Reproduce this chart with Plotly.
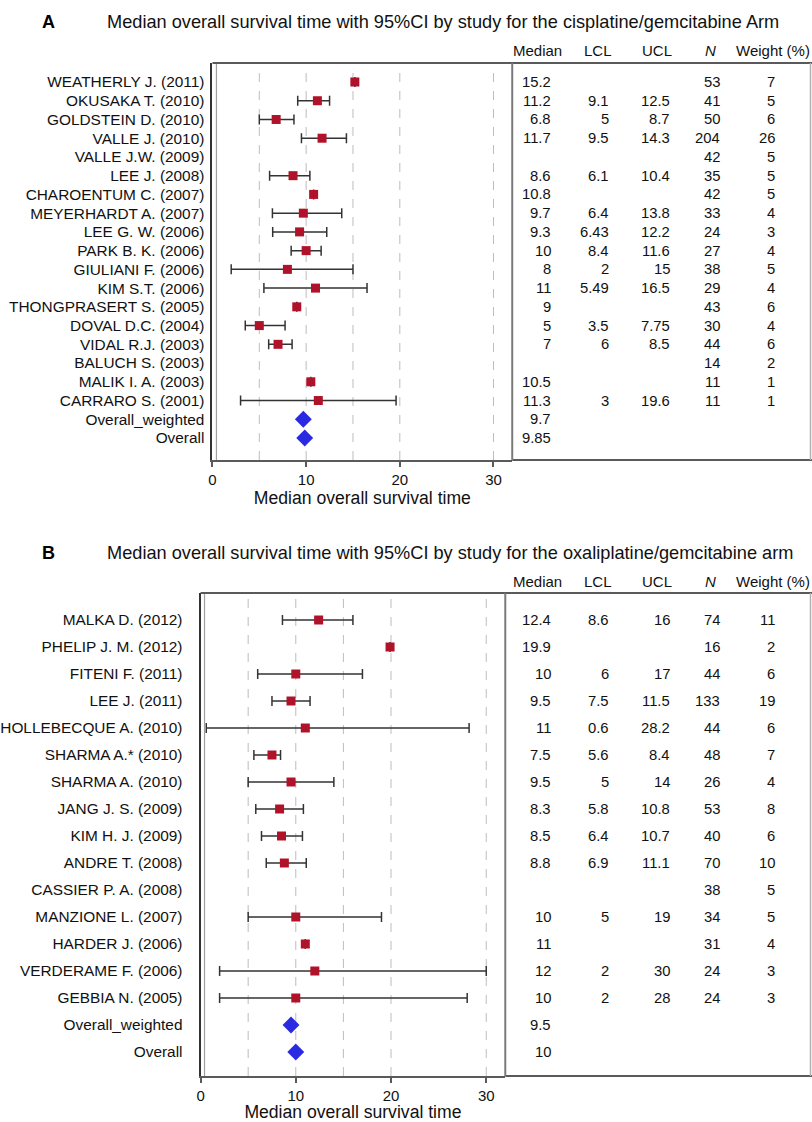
import plotly.graph_objects as go

# ---------------- Panel A data (cisplatine/gemcitabine) ----------------
A_STUDIES = ["WEATHERLY J. (2011)", "OKUSAKA T. (2010)", "GOLDSTEIN D. (2010)", "VALLE J. (2010)",
             "VALLE J.W. (2009)", "LEE J. (2008)", "CHAROENTUM C. (2007)", "MEYERHARDT A. (2007)",
             "LEE G. W. (2006)", "PARK B. K. (2006)", "GIULIANI F. (2006)", "KIM S.T. (2006)",
             "THONGPRASERT S. (2005)", "DOVAL D.C. (2004)", "VIDAL R.J. (2003)", "BALUCH S. (2003)",
             "MALIK I. A. (2003)", "CARRARO S. (2001)"]
A_MEDIAN = [15.2, 11.2, 6.8, 11.7, None, 8.6, 10.8, 9.7, 9.3, 10, 8, 11, 9, 5, 7, None, 10.5, 11.3]
A_LCL = [None, 9.1, 5, 9.5, None, 6.1, None, 6.4, 6.43, 8.4, 2, 5.49, None, 3.5, 6, None, None, 3]
A_UCL = [None, 12.5, 8.7, 14.3, None, 10.4, None, 13.8, 12.2, 11.6, 15, 16.5, None, 7.75, 8.5, None, None, 19.6]
A_N = [53, 41, 50, 204, 42, 35, 42, 33, 24, 27, 38, 29, 43, 30, 44, 14, 11, 11]
A_WEIGHT = [7, 5, 6, 26, 5, 5, 5, 4, 3, 4, 5, 4, 6, 4, 6, 2, 1, 1]
A_OVERALL_LABELS = ["Overall_weighted", "Overall"]
A_OVERALL = [9.7, 9.85]
A_TITLE = "Median overall survival time with 95%CI by study for the cisplatine/gemcitabine Arm"

# ---------------- Panel B data (oxaliplatine/gemcitabine) ----------------
B_STUDIES = ["MALKA D. (2012)", "PHELIP J. M. (2012)", "FITENI F. (2011)", "LEE J. (2011)",
             "HOLLEBECQUE A. (2010)", "SHARMA A.* (2010)", "SHARMA A. (2010)", "JANG J. S. (2009)",
             "KIM H. J. (2009)", "ANDRE T. (2008)", "CASSIER P. A. (2008)", "MANZIONE L. (2007)",
             "HARDER J. (2006)", "VERDERAME F. (2006)", "GEBBIA N. (2005)"]
B_MEDIAN = [12.4, 19.9, 10, 9.5, 11, 7.5, 9.5, 8.3, 8.5, 8.8, None, 10, 11, 12, 10]
B_LCL = [8.6, None, 6, 7.5, 0.6, 5.6, 5, 5.8, 6.4, 6.9, None, 5, None, 2, 2]
B_UCL = [16, None, 17, 11.5, 28.2, 8.4, 14, 10.8, 10.7, 11.1, None, 19, None, 30, 28]
B_N = [74, 16, 44, 133, 44, 48, 26, 53, 40, 70, 38, 34, 31, 24, 24]
B_WEIGHT = [11, 2, 6, 19, 6, 7, 4, 8, 6, 10, 5, 5, 4, 3, 3]
B_OVERALL_LABELS = ["Overall_weighted", "Overall"]
B_OVERALL = [9.5, 10]
B_TITLE = "Median overall survival time with 95%CI by study for the oxaliplatine/gemcitabine arm"

X_TICKS = [0, 10, 20, 30]
GRID_LINES = [5, 10, 15, 20, 30]
COL_HEADERS = ["Median", "LCL", "UCL", "<i>N</i>", "Weight (%)"]

# ---------------- layout geometry (pixels) ----------------
W, H = 812, 1122
FONT = "Liberation Sans, Arial, Helvetica, sans-serif"
RED = "#B0122A"
BLUE = "#2A2AE2"
ERR = "#333333"
FRAME = "#5a5a5a"

HEAD_X = [535, 596, 656, 710, 773]       # header centres
COL_X = [551, 609, 671, 721, 777]        # right edge of value columns


def px(x):
    return x / W


def py(y):
    return 1 - y / H


def fmt(v):
    return "" if v is None else f"{v:g}"


fig = go.Figure()
annotations = []
shapes = []


def panel(idx, letter, title, title_y, studies, med, lcl, ucl, n, wt, ov_labels, ov_vals,
          left, right, top, bottom, head_y, label_pad, pad_top, pad_bot):
    xa = "x" if idx == 1 else f"x{idx}"
    ya = "y" if idx == 1 else f"y{idx}"
    labels = studies + ov_labels
    nrows = len(labels)
    rows = list(range(nrows))
    srows = rows[:len(studies)]
    orows = rows[len(studies):]

    plus = [None if (u is None or m is None) else u - m for m, u in zip(med, ucl)]
    minus = [None if (l is None or m is None) else m - l for m, l in zip(med, lcl)]

    fig.add_trace(go.Scatter(
        x=med, y=srows, mode="markers", xaxis=xa, yaxis=ya, showlegend=False,
        marker=dict(symbol="square", size=9, color=RED),
        error_x=dict(type="data", symmetric=False, array=plus, arrayminus=minus,
                     color=ERR, thickness=1.5, width=5),
        cliponaxis=False))
    fig.add_trace(go.Scatter(
        x=ov_vals, y=orows, mode="markers", xaxis=xa, yaxis=ya, showlegend=False,
        marker=dict(symbol="diamond", size=13, color=BLUE)))

    # axis layout
    step = (bottom - top - pad_top - pad_bot) / (nrows - 1)
    y_lo = nrows - 1 + pad_bot / step
    y_hi = -pad_top / step
    xkey = "xaxis" if idx == 1 else f"xaxis{idx}"
    ykey = "yaxis" if idx == 1 else f"yaxis{idx}"
    fig.layout[xkey] = dict(
        domain=[px(left), px(right)], anchor=ya, range=[0, 32],
        tickvals=X_TICKS, ticks="outside", ticklen=5, tickwidth=1.5, tickcolor=FRAME,
        showline=True, linecolor=FRAME, linewidth=2, showgrid=False, zeroline=False,
        tickfont=dict(size=15, color="#111", family=FONT),
        title=dict(text="Median overall survival time", standoff=4,
                   font=dict(size=17.6, color="#111", family=FONT)))
    fig.layout[ykey] = dict(
        domain=[py(bottom), py(top)], anchor=xa, range=[y_lo, y_hi],
        tickvals=rows, ticktext=labels, ticks="", showgrid=False, zeroline=False,
        showline=True, linecolor="#333", linewidth=2, ticklabelstandoff=label_pad,
        tickfont=dict(size=15.4, color="#111", family=FONT))

    # dashed reference grid lines
    for g in GRID_LINES:
        shapes.append(dict(type="line", xref=xa, yref=f"{ya} domain", x0=g, x1=g, y0=0, y1=1,
                           line=dict(color="#bdbdbd", width=1, dash="dash"), layer="below"))
    # inner light line near the left axis
    shapes.append(dict(type="line", xref="paper", yref="paper", x0=px(left + 4), x1=px(left + 4),
                       y0=py(bottom), y1=py(top), line=dict(color="#a0a0a0", width=1.2)))
    # frame around plot + table
    shapes.append(dict(type="line", xref="paper", yref="paper", x0=px(left), x1=px(W),
                       y0=py(top), y1=py(top), line=dict(color=FRAME, width=2)))
    shapes.append(dict(type="line", xref="paper", yref="paper", x0=px(right), x1=px(W),
                       y0=py(bottom), y1=py(bottom), line=dict(color=FRAME, width=2)))
    shapes.append(dict(type="line", xref="paper", yref="paper", x0=px(right), x1=px(right),
                       y0=py(bottom), y1=py(top), line=dict(color="#7a7a7a", width=2)))
    shapes.append(dict(type="line", xref="paper", yref="paper", x0=px(W - 1.5), x1=px(W - 1.5),
                       y0=py(bottom), y1=py(top), line=dict(color="#b0b0b0", width=1.5)))

    # panel letter and title
    annotations.append(dict(text=f"<b>{letter}</b>", x=px(43), y=py(title_y), xref="paper",
                            yref="paper", xanchor="center", yanchor="middle", showarrow=False,
                            font=dict(size=18, color="#000", family=FONT)))
    annotations.append(dict(text=title, x=px(100), y=py(title_y), xref="paper", yref="paper",
                            xanchor="left", yanchor="middle", showarrow=False,
                            font=dict(size=18.2, color="#111", family=FONT)))
    # table header
    for hx, htxt in zip(HEAD_X, COL_HEADERS):
        annotations.append(dict(text=htxt, x=px(hx), y=py(head_y), xref="paper", yref="paper",
                                xanchor="center", yanchor="middle", showarrow=False,
                                font=dict(size=15, color="#111", family=FONT)))
    # table body
    med_all = med + ov_vals
    cols = [med_all, lcl + [None] * len(ov_vals), ucl + [None] * len(ov_vals),
            n + [None] * len(ov_vals), wt + [None] * len(ov_vals)]
    for cx, col in zip(COL_X, cols):
        for r, v in zip(rows, col):
            if v is None:
                continue
            annotations.append(dict(text=fmt(v), x=px(cx), y=r, xref="paper", yref=ya,
                                    xanchor="right", yanchor="middle", showarrow=False,
                                    font=dict(size=14.8, color="#111", family=FONT)))


panel(1, "A", A_TITLE, 22, A_STUDIES, A_MEDIAN, A_LCL, A_UCL, A_N, A_WEIGHT,
      A_OVERALL_LABELS, A_OVERALL, left=208, right=510, top=63, bottom=460, head_y=51,
      label_pad=3, pad_top=19, pad_bot=22)
panel(2, "B", B_TITLE, 553, B_STUDIES, B_MEDIAN, B_LCL, B_UCL, B_N, B_WEIGHT,
      B_OVERALL_LABELS, B_OVERALL, left=196, right=503, top=593, bottom=1076, head_y=581,
      label_pad=13, pad_top=27, pad_bot=24)

fig.update_layout(
    width=W, height=H, margin=dict(l=0, r=0, t=0, b=0),
    paper_bgcolor="white", plot_bgcolor="white",
    font=dict(family=FONT, color="#111"),
    annotations=annotations, shapes=shapes, showlegend=False)

fig.write_html("out.html", config={"displayModeBar": False},
               post_script="document.body.style.margin='0';"
                           "document.body.style.overflow='hidden';")
